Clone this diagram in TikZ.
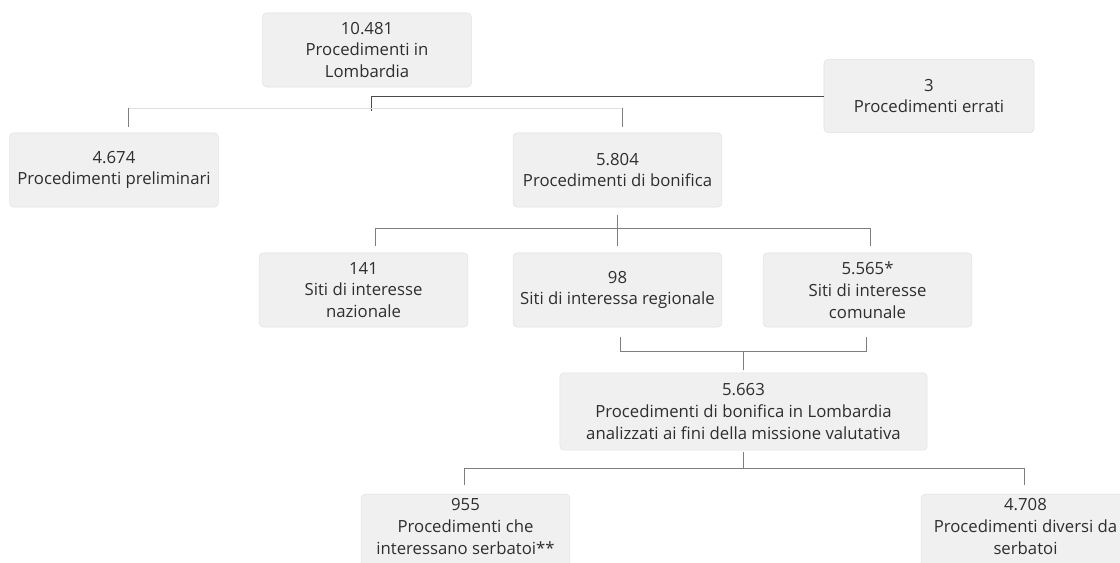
\documentclass[tikz,border=0pt]{standalone}
\usepackage{fontspec}
\setmainfont{Open Sans}
\usepackage{tikz}
\usetikzlibrary{calc}
\usetikzlibrary{positioning}

\definecolor{boxfill}{HTML}{F0F0F0}
\definecolor{boxedge}{HTML}{E2E2E2}
\definecolor{boxtext}{HTML}{2E2E2E}
\definecolor{linegray}{HTML}{7E7E7E}
\definecolor{linedark}{HTML}{4A4A4A}
\definecolor{linefaint}{HTML}{E3DEE3}

\tikzset{
  box/.style={draw=boxedge,fill=boxfill,rectangle,rounded corners=0.1cm,text=boxtext,
    align=center,font=\fontsize{11.9}{15.5}\selectfont,
    minimum width=5.22cm,minimum height=1.85cm,inner sep=0pt},
  openbox/.style={box,minimum height=0pt,inner ysep=3pt,anchor=north},
  link/.style={draw=linegray,line width=0.7pt},
  darklink/.style={draw=linedark,line width=0.7pt},
  faintlink/.style={draw=linefaint,line width=0.7pt}
}

\begin{document}
\begin{tikzpicture}[x=0.025cm,y=-0.025cm]

  \useasboundingbox (0,0) rectangle (1120,563);
  \clip (0,0) rectangle (1120,563);

  \node [box] (T_lomb) at (367,50) {10.481\\Procedimenti in\\Lombardia};
  \node [box,minimum width=5.25cm,minimum height=1.83cm] (T_err) at (929,96) {3\\Procedimenti errati};
  \node [box] (T_prel) at (114,170) {4.674\\Procedimenti preliminari};
  \node [box] (T_bon) at (617.5,170) {5.804\\Procedimenti di bonifica};

  \node [box] (S_naz) at (363.5,290) {141\\Siti di interesse\\nazionale};
  \node [box] (S_reg) at (617.5,290) {98\\Siti di interessa regionale};
  \node [box] (S_com) at (867.5,290) {5.565*\\Siti di interesse\\comunale};

  \node [box,minimum width=9.18cm,minimum height=1.93cm] (V_an) at (743.5,411.5)
    {5.663\\Procedimenti di bonifica in Lombardia\\analizzati ai fini della missione valutativa};
  \node [openbox] (V_serb) at (465.5,494) {955\\Procedimenti che\\interessano serbatoi**\\\strut};
  \node [openbox] (V_div) at (1025.5,494) {4.708\\Procedimenti diversi da\\serbatoi\\\strut};

  \coordinate (J_top) at (371.5,96);
  \coordinate (J_prel) at (128,108);
  \coordinate (J_bon) at (622,108);
  \coordinate (J_naz) at (375,228);
  \coordinate (J_com) at (870,228);
  \coordinate (K_reg) at (620,351);
  \coordinate (K_com) at (866,351);
  \coordinate (K_an) at (743,351);
  \coordinate (J_serb) at (464,468);
  \coordinate (J_div) at (1024,468);

  \path [darklink] (T_err) -- (J_top) -- ++(0,15);
  \path [faintlink] (J_prel) -- (J_bon);
  \path [link,shorten >=0.15cm]
    (J_prel) edge (J_prel |- T_prel.north)
    (J_bon)  edge (J_bon |- T_bon.north);

  \path [link,shorten <=0.2cm,shorten >=0.175cm] (T_bon) edge (S_reg);
  \path [link] (J_naz) -- (J_com);
  \path [link,shorten >=0.175cm]
    (J_naz) edge (J_naz |- S_naz.north)
    (J_com) edge (J_com |- S_com.north);

  \path [link,shorten <=0.25cm,shorten >=0.25cm]
    (S_reg.south -| K_reg) -- (K_reg) -- (K_com) -- (S_com.south -| K_com);
  \path [link,shorten >=0.075cm] (K_an) -- (K_an |- V_an.north);

  \path [link,shorten <=0.05cm] (V_an.south) -- (V_an.south |- J_serb);
  \path [link] (J_serb) -- (J_div);
  \path [link,shorten >=0.225cm]
    (J_serb) edge (J_serb |- V_serb.north)
    (J_div)  edge (J_div |- V_div.north);

\end{tikzpicture}
\end{document}
